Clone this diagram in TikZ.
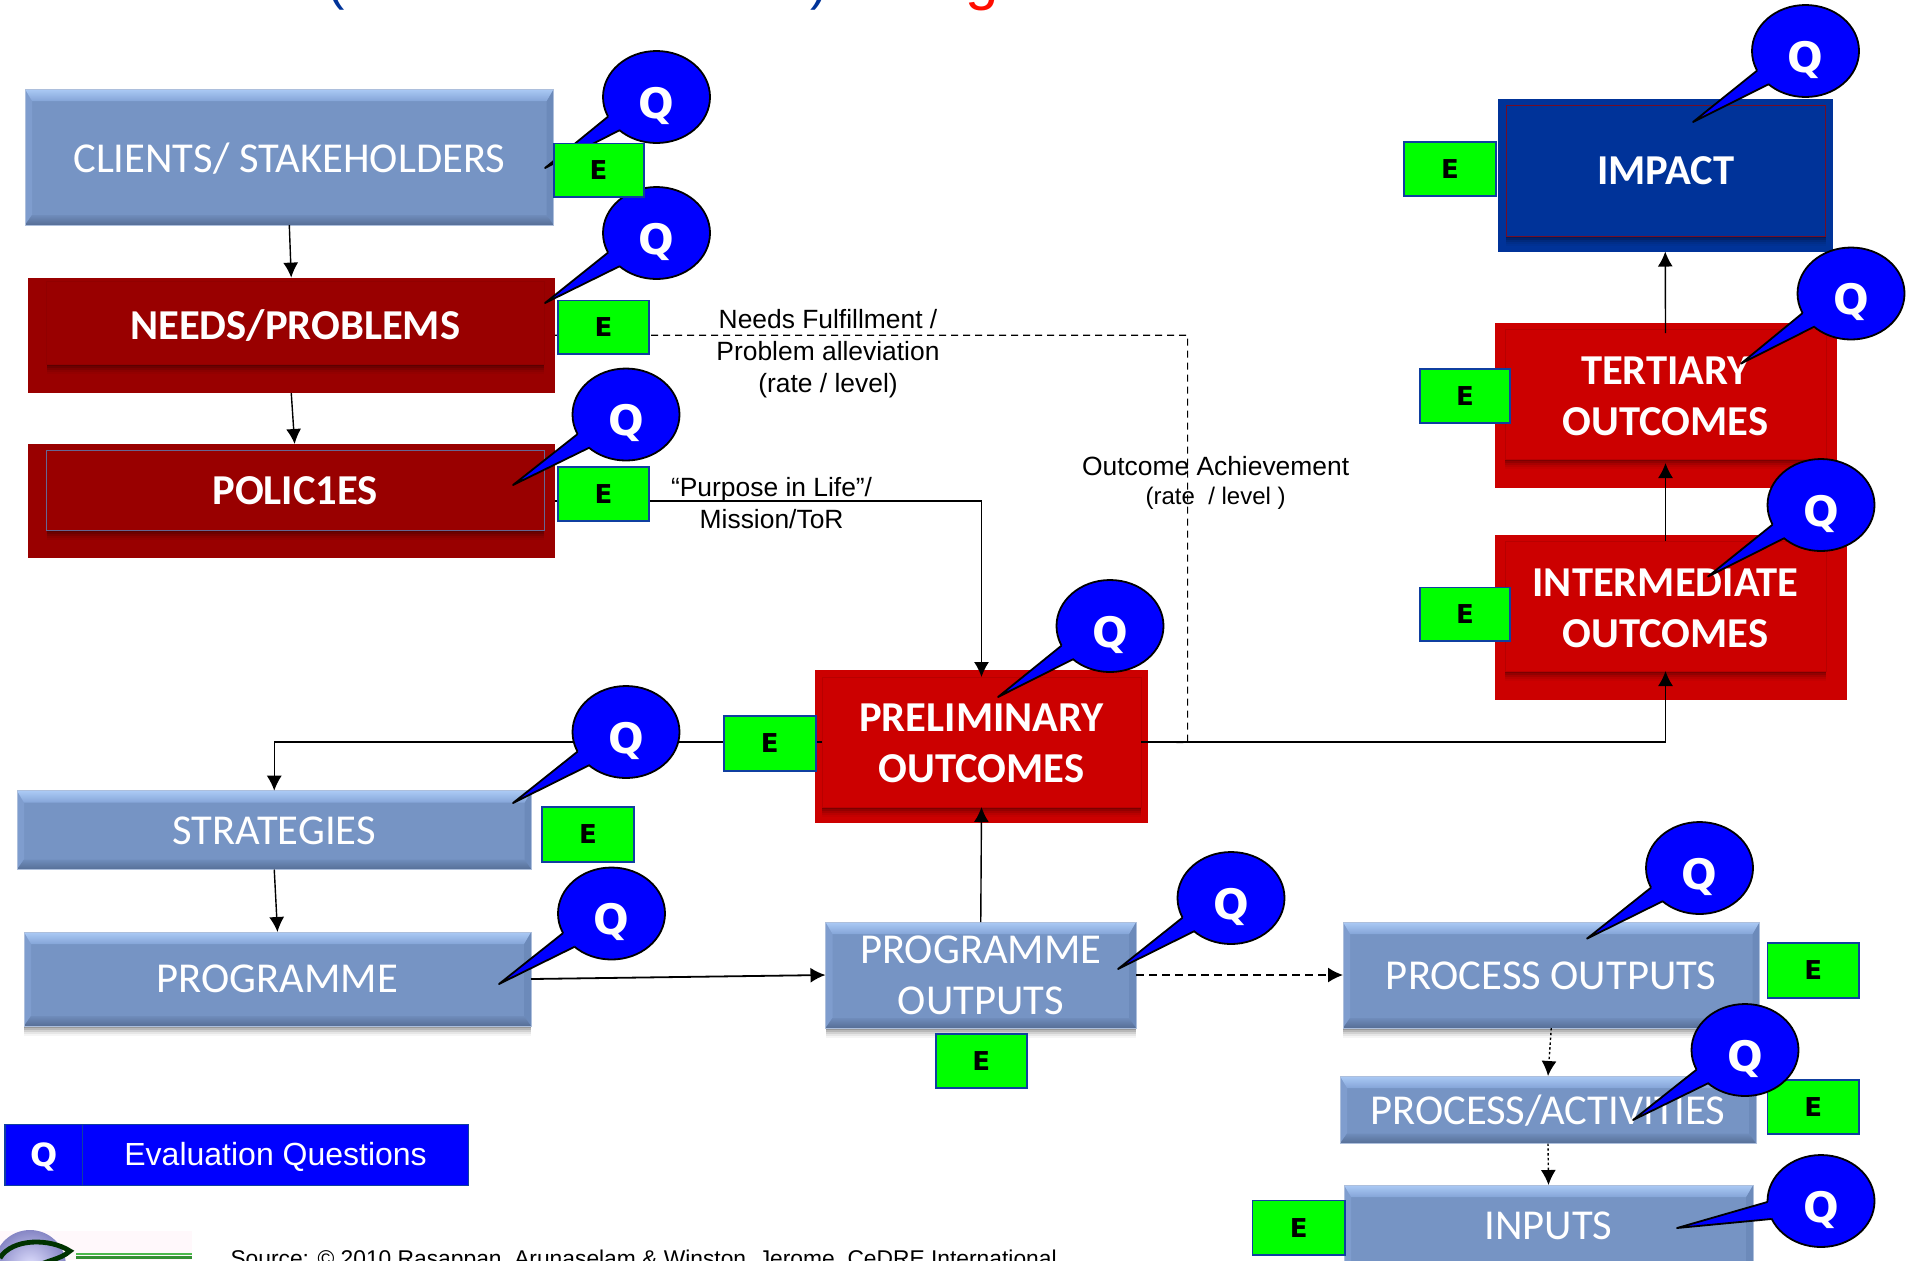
\documentclass[tikz,border=0pt]{standalone}
\usepackage{fontspec}
\usetikzlibrary{shapes.geometric,shadows,calc,arrows.meta}
\setmainfont{Liberation Sans}
\newfontfamily\calfont{Carlito}
\newfontfamily\djvfont{DejaVu Sans}
\definecolor{bodyblue}{HTML}{7694C4}
\definecolor{bevtopA}{HTML}{ABCAF5}
\definecolor{bevtopB}{HTML}{85A5D8}
\definecolor{bevleft}{HTML}{7F9DCE}
\definecolor{bevright}{HTML}{6C8ABA}
\definecolor{bevbotA}{HTML}{6F8CBB}
\definecolor{bevbotB}{HTML}{566E96}
\definecolor{qblue}{HTML}{0000FF}
\definecolor{ered}{HTML}{CC0000}
\definecolor{dred}{HTML}{990000}
\definecolor{navy}{HTML}{003399}
\definecolor{egreen}{HTML}{00FF00}
\definecolor{eborder}{HTML}{0F3FA0}
\definecolor{logopink}{HTML}{FFF8FB}
\tikzset{
  x=0.5pt,y=-0.5pt,
  every node/.style={inner sep=0pt,outer sep=0pt},
  softshadow/.style={
    general shadow={shadow xshift=0pt,shadow yshift=-1pt,fill=black,opacity=.16},
    general shadow={shadow xshift=0pt,shadow yshift=-2pt,fill=black,opacity=.12},
    general shadow={shadow xshift=0pt,shadow yshift=-3pt,fill=black,opacity=.09},
    general shadow={shadow xshift=0pt,shadow yshift=-4pt,fill=black,opacity=.06},
    general shadow={shadow xshift=0pt,shadow yshift=-5pt,fill=black,opacity=.04}},
  bluebox/.style={fill=bodyblue,draw=bodyblue!60!white,line width=0.4pt,
    path picture={
      \coordinate (nw) at (path picture bounding box.north west);
      \coordinate (ne) at (path picture bounding box.north east);
      \coordinate (sw) at (path picture bounding box.south west);
      \coordinate (se) at (path picture bounding box.south east);
      \fill[bevleft] (nw)--(sw)--($(sw)+(3.5pt,5pt)$)--($(nw)+(3.5pt,-6pt)$)--cycle;
      \fill[bevright] (ne)--(se)--($(se)+(-3.5pt,5pt)$)--($(ne)+(-3.5pt,-6pt)$)--cycle;
      \shade[top color=bevtopA,bottom color=bevtopB] (nw)--(ne)--($(ne)+(-3.5pt,-6pt)$)--($(nw)+(3.5pt,-6pt)$)--cycle;
      \shade[top color=bevbotA,bottom color=bevbotB] (sw)--(se)--($(se)+(-3.5pt,5pt)$)--($(sw)+(3.5pt,5pt)$)--cycle;
    }},
  redouter/.style={fill=ered},
  redinner/.style={fill=ered,draw=ered!90!black,line width=0.3pt,softshadow},
  dredouter/.style={fill=dred},
  dredinner/.style={fill=dred,draw=dred!95!black,line width=0.3pt,softshadow},
  navyouter/.style={fill=navy},
  navyinner/.style={fill=navy,draw=dred!75!navy,line width=0.4pt,softshadow},
  txtreg/.style={text=white,align=center,font=\calfont\fontsize{21.3}{25.5}\selectfont},
  txtbold/.style={text=white,align=center,font=\calfont\bfseries\fontsize{21.3}{25.5}\selectfont},
  ebox/.style={fill=egreen,draw=eborder,line width=0.9pt,font=\djvfont\bfseries\fontsize{13}{15}\selectfont},
  qbubble/.style={ellipse,fill=qblue,draw=black,line width=0.9pt,minimum width=53.5pt,minimum height=46pt,
    text=white,font=\djvfont\bfseries\fontsize{21}{24}\selectfont},
  legendcell/.style={fill=qblue,draw=eborder,line width=0.6pt},
  note/.style={font=\fontsize{13.2}{16}\selectfont,align=center,text=black},
  conn/.style={line width=0.7pt,-{Latex[length=7.5pt,width=7.5pt]}},
  dashconn/.style={line width=0.8pt,dash pattern=on 4pt off 2.5pt,-{Latex[length=7.5pt,width=7.5pt]}},
  dotconn/.style={line width=0.7pt,dash pattern=on 1.2pt off 1.2pt,-{Latex[length=7.5pt,width=7.5pt]}},
  plainline/.style={line width=0.6pt,dash pattern=on 3.5pt off 2.5pt},
}
% x1 y1 x2 y2 name style text
\newcommand{\bx}[7]{\node[#6,minimum width={(#3-#1)*0.5pt},minimum height={(#4-#2)*0.5pt}] (#5) at ({(#1+#3)/2},{(#2+#4)/2}) {#7};}
% text over a box: box name, downward nudge in pt, style, text
\newcommand{\tx}[4]{\node[#3] (#1-text) at ([yshift=-#2pt]#1.center) {#4};}
% name cx cy tipx tipy angle1 angle2
\newcommand{\qb}[7]{%
  \node[qbubble] (#1) at (#2,#3) {\raisebox{-10.5pt}[0pt][0pt]{Q}};
  \coordinate (#1-tip) at (#4,#5);
  \fill[qblue] (#1.#6)--(#1-tip)--(#1.#7)--($(#1.center)!0.72!(#1.#6)$)--cycle;
  \draw[line width=0.9pt,line join=round] (#1.#6)--(#1-tip)--(#1.#7);
}
\begin{document}
\begin{tikzpicture}
\useasboundingbox (0,0) rectangle (1910,1260);
\clip (0,0) rectangle (1910,1260);
\fill[white] (0,0) rectangle (1910,1260);

% cropped title
\node[anchor=base,text=navy,font=\fontsize{26}{30}\selectfont] (titleopen) at (336.5,-1) {(};
\node[anchor=base,text=navy,font=\fontsize{26}{30}\selectfont] (titleclose) at (819,-1) {)};
\node[anchor=base,text=red!90!orange,font=\fontsize{30}{34}\selectfont] (titleg) at (982,-2) {g};

% boxes, left column
\bx{25}{89}{553.6}{225}{clients}{bluebox}{}
\bx{27.5}{277.6}{555}{393}{needs}{dredouter}{}
\bx{46.5}{281}{544}{364}{needsI}{dredinner}{}
\bx{27.5}{444}{555}{558}{policies}{dredouter}{}
\bx{46.5}{450}{544}{530}{policiesI}{dredinner,draw=blue!30!black!60}{}
\bx{17}{790.7}{531.5}{869.5}{strategies}{bluebox}{}
\bx{24}{932}{531}{1026}{programme}{bluebox,softshadow}{}

% boxes, middle
\bx{814.5}{670}{1148}{823}{prelim}{redouter}{}
\bx{822}{677}{1141}{807}{prelimI}{redinner}{}
\bx{825.5}{922}{1136}{1028}{outputs}{bluebox,softshadow}{}

% boxes, right column
\bx{1498}{99}{1832.5}{251.5}{impact}{navyouter}{}
\bx{1506}{105}{1825.7}{236}{impactI}{navyinner}{}
\bx{1495}{323}{1837}{488}{tertiary}{redouter}{}
\bx{1505}{329}{1826}{459}{tertiaryI}{redinner}{}
\bx{1495}{535}{1847}{700}{intermediate}{redouter}{}
\bx{1505}{541}{1826}{671}{intermediateI}{redinner}{}
\bx{1343}{922}{1759.5}{1028}{procout}{bluebox,softshadow}{}
\bx{1340}{1076}{1756}{1143.5}{procact}{bluebox}{}
\bx{1344}{1185}{1753}{1275}{inputs}{bluebox}{}

% box texts
\tx{clients}{0.6}{txtreg}{CLIENTS/ STAKEHOLDERS}
\tx{needsI}{1.6}{txtbold}{NEEDS/PROBLEMS}
\tx{policiesI}{0.2}{txtbold}{POLIC1ES}
\tx{strategies}{0.6}{txtreg}{STRATEGIES}
\tx{programme}{0}{txtreg}{PROGRAMME}
\tx{prelimI}{0.8}{txtbold}{PRELIMINARY\\OUTCOMES}
\tx{outputs}{0.3}{txtreg}{PROGRAMME\\OUTPUTS}
\tx{impactI}{0}{txtbold}{IMPACT}
\tx{tertiaryI}{1.2}{txtbold}{TERTIARY\\OUTCOMES}
\tx{intermediateI}{1.3}{txtbold}{INTERMEDIATE\\OUTCOMES}
\tx{procout}{0.6}{txtreg}{PROCESS OUTPUTS}
\tx{procact}{0.6}{txtreg}{PROCESS/ACTIVITIES}
\tx{inputs}{-2.25}{txtreg}{INPUTS}

% connectors
\draw[conn] (clients.south)--(needs.north);
\draw[conn] (needs.south)--([xshift=1.7pt]policies.north);
\draw[conn] (policies.east) -| (prelimI.north);
\coordinate (dashcorner) at (1187.6,742.5);
\draw[plainline] (needs.east) -| (dashcorner) -- (prelimI.east);
\draw[conn] (prelimI.west) -| (strategies.north);
\draw[conn] (strategies.south)--(programme.north);
\draw[conn,line width=0.9pt] (programme.east)--(outputs.west);
\draw[conn] (outputs.north)--(prelimI.south);
\draw[dashconn] (outputs.east)--(procout.west);
\draw[dotconn] (procout.south)--(procact.north);
\draw[dotconn] (procact.south)--(inputs.north);
\draw[conn] (prelimI.east) -| (intermediateI.south);
\draw[conn] (intermediateI.north)--([yshift=-2pt]tertiaryI.south);
\draw[conn] ([yshift=-2pt]tertiaryI.north)--(impact.south);

% E boxes
\bx{558}{300.5}{649}{354}{e2}{ebox}{E}
\bx{558}{467}{649}{520.7}{e3}{ebox}{E}
\bx{724}{716}{815.7}{770.6}{e4}{ebox}{E}
\bx{542}{807}{634}{862}{e5}{ebox}{E}
\bx{935.7}{1034}{1027}{1088}{e6}{ebox}{E}
\bx{1404}{142}{1496}{196}{e7}{ebox}{E}
\bx{1420}{369}{1510}{423}{e8}{ebox}{E}
\bx{1420}{587.4}{1510}{641}{e9}{ebox}{E}
\bx{1767.5}{943}{1859}{997.6}{e10}{ebox}{E}
\bx{1767.5}{1080}{1859}{1134}{e11}{ebox}{E}
\bx{1252.5}{1200.5}{1345}{1255}{e12}{ebox}{E}

% question bubbles
\qb{q1}{656.5}{97}{545}{168}{202}{222}
\qb{q2}{656.5}{233}{545}{303}{202}{222}
\qb{q3}{626}{414.5}{513}{485}{202}{222}
\qb{q4}{626}{732}{513}{803}{202}{222}
\qb{q5}{611.5}{913.5}{499}{984}{202}{222}
\qb{q6}{1110}{626}{998}{697}{202}{222}
\qb{q7}{1231}{898}{1118}{969}{202}{222}
\qb{q8}{1699.5}{868}{1587}{938.6}{202}{222}
\qb{q9}{1745}{1050}{1633}{1120}{202}{222}
\qb{q10}{1821}{1201}{1677}{1228}{181}{200}
\qb{q11}{1805.5}{51}{1693}{122}{202}{222}
\qb{q12}{1851}{293.5}{1741}{363.6}{202}{222}
\qb{q13}{1821}{505}{1708}{576.5}{202}{222}

\bx{553.6}{143.4}{643.6}{197}{e1}{ebox}{E}

% labels
\node[note] (lab1) at (828,354) {Needs Fulfillment /\\Problem alleviation\\(rate / level)};
\node[note] (lab2) at (771.6,503) {“Purpose in Life”/\\Mission/ToR};
\node[note] (lab3) at (1215.6,483) {Outcome Achievement\\[-1.5pt]{\fontsize{12}{14}\selectfont (rate\ \ / level )}};

% legend
\bx{5}{1124.6}{82.7}{1185.6}{legq}{legendcell}{}
\bx{82.7}{1124.6}{468.5}{1185.6}{legtext}{legendcell}{}
\tx{legq}{1}{text=white,font=\djvfont\bfseries\fontsize{16}{18}\selectfont}{Q}
\tx{legtext}{1}{text=white,font=\fontsize{16}{19}\selectfont}{Evaluation Questions}

% logo, cropped
\fill[logopink] (0,1231) rectangle (192,1260);
\shade[inner color=blue!12!white,outer color=blue!35!gray!70] (30,1266) circle [radius=36];
\draw[green!20!black,line width=2.4pt] (0,1258) .. controls (12,1238) and (50,1238) .. (70,1251) .. controls (60,1260) and (46,1260) .. (34,1268);
\fill[green!60!black!70] (76,1252.5) rectangle (192,1255);
\fill[green!45!black!80] (76,1256) rectangle (192,1259);

% source line, cropped
\node[anchor=base west,font=\fontsize{11.4}{14}\selectfont] (source) at (230.5,1266) {Source: © 2010 Rasappan, Arunaselam \& Winston, Jerome, CeDRE International};
\end{tikzpicture}
\end{document}
